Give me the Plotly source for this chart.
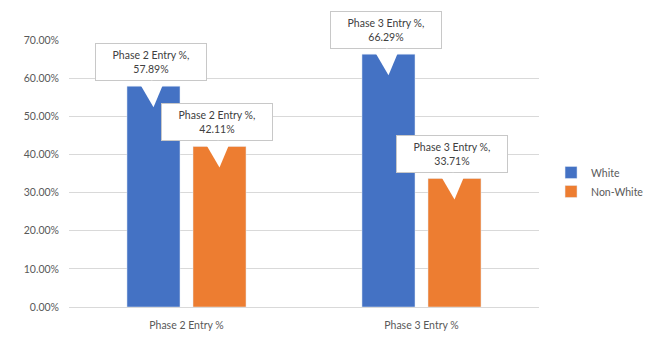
import plotly.graph_objects as go

categories = ["Phase 2 Entry %", "Phase 3 Entry %"]
white_vals = [0.5789, 0.6629]
nonwhite_vals = [0.4211, 0.3371]
series_names = ["White", "Non-White"]
colors = ["#4472C4", "#ED7D31"]

fig = go.Figure()
fig.add_trace(go.Bar(x=categories, y=white_vals, name=series_names[0],
                     marker_color=colors[0], legendgroup="a"))
fig.add_trace(go.Bar(x=categories, y=nonwhite_vals, name=series_names[1],
                     marker_color=colors[1], legendgroup="b"))

FONT = "Lato, Carlito, 'Liberation Sans', sans-serif"

# callouts
offsets = [-33, 33]
for si, vals in enumerate([white_vals, nonwhite_vals]):
    for ci, cat in enumerate(categories):
        fig.add_annotation(
            x=cat, y=vals[ci], xref="x", yref="y",
            xshift=offsets[si], yshift=-21,
            text=f"{cat},<br>{vals[ci]*100:.2f}%",
            showarrow=True, ax=-3, ay=-45,
            arrowhead=2, arrowsize=3.2, arrowwidth=1.5, arrowcolor="white",
            bgcolor="white", bordercolor="#c8c8c8", borderwidth=1, borderpad=5,
            font=dict(family=FONT, size=10.5, color="#404040"),
            width=100, align="center",
        )

fig.update_layout(
    width=656, height=337,
    margin=dict(l=69, r=117, t=40, b=30, autoexpand=False),
    paper_bgcolor="white", plot_bgcolor="white",
    barmode="group", bargap=0.438, bargroupgap=0.197,
    font=dict(family=FONT, size=10, color="#595959"),
    legend=dict(xref="container", yref="container", x=0.84, y=0.46,
                xanchor="left", yanchor="middle",
                font=dict(size=10.5, color="#595959"), itemwidth=30,
                tracegroupgap=7, traceorder="normal"),
    showlegend=True,
)
fig.update_yaxes(range=[0, 0.7], dtick=0.1, tickformat=".2%",
                 gridcolor="#d9d9d9", gridwidth=1, zeroline=False,
                 showline=False, ticks="", ticklabelstandoff=9,
                 tickfont=dict(size=10.5, color="#595959"))
fig.update_xaxes(showline=True, linecolor="#d9d9d9", ticks="",
                 ticklabelstandoff=8,
                 tickfont=dict(size=10.5, color="#595959"))

fig.write_html("out.html")
